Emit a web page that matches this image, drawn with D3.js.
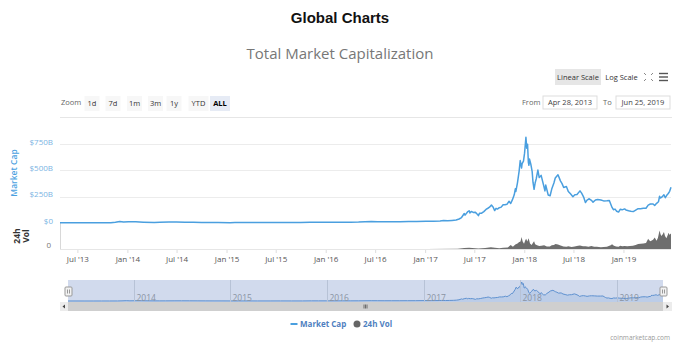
<!DOCTYPE html>
<html>
<head>
<meta charset="utf-8">
<script src="https://cdn.jsdelivr.net/npm/d3@7"></script>
<style>
  html, body { margin: 0; padding: 0; background: #fff; }
  svg { display: block; }
  text { font-family: "Open Sans", "Liberation Sans", sans-serif; }
</style>
</head>
<body>
<svg id="chart" width="680" height="344"></svg>
<script>
// Total market capitalization, $ billions
const capDates = [
  "2013-04-28","2013-06-01","2013-07-01","2013-08-01","2013-09-01","2013-10-01","2013-11-01","2013-11-18",
  "2013-12-04","2013-12-18","2014-01-05","2014-02-01","2014-03-01","2014-04-10","2014-05-01","2014-06-03",
  "2014-07-01","2014-08-01","2014-09-01","2014-10-01","2014-11-01","2014-12-01","2015-01-14","2015-02-01",
  "2015-03-10","2015-04-15","2015-06-01","2015-07-10","2015-08-20","2015-10-01","2015-11-04","2015-12-01",
  "2016-01-01","2016-02-01","2016-03-01","2016-04-01","2016-05-01","2016-06-17","2016-07-10","2016-08-05",
  "2016-09-01","2016-10-01","2016-11-01","2016-12-01","2017-01-04","2017-01-15","2017-02-01","2017-02-25",
  "2017-03-10","2017-03-25","2017-04-10","2017-04-25","2017-05-06","2017-05-15","2017-05-25","2017-05-28",
  "2017-06-06","2017-06-12","2017-06-15","2017-06-20","2017-06-27","2017-07-04","2017-07-10","2017-07-16",
  "2017-07-20","2017-07-28","2017-08-05","2017-08-13","2017-08-20","2017-08-26","2017-09-02","2017-09-08",
  "2017-09-14","2017-09-19","2017-09-24","2017-10-01","2017-10-08","2017-10-15","2017-10-22","2017-10-29",
  "2017-11-06","2017-11-12","2017-11-18","2017-11-25","2017-11-29","2017-12-01","2017-12-07","2017-12-13",
  "2017-12-17","2017-12-22","2017-12-24","2017-12-29","2018-01-02","2018-01-07","2018-01-10","2018-01-13",
  "2018-01-16","2018-01-18","2018-01-20","2018-01-25","2018-01-30","2018-02-02","2018-02-06","2018-02-10",
  "2018-02-14","2018-02-20","2018-02-25","2018-03-04","2018-03-09","2018-03-14","2018-03-18","2018-03-21",
  "2018-03-30","2018-04-06","2018-04-12","2018-04-20","2018-04-25","2018-05-05","2018-05-10","2018-05-14",
  "2018-05-20","2018-05-26","2018-06-05","2018-06-12","2018-06-20","2018-06-29","2018-07-06","2018-07-14",
  "2018-07-25","2018-07-31","2018-08-08","2018-08-14","2018-08-20","2018-08-28","2018-09-05","2018-09-11",
  "2018-09-20","2018-09-28","2018-10-10","2018-10-20","2018-11-01","2018-11-10","2018-11-15","2018-11-20",
  "2018-11-25","2018-12-01","2018-12-07","2018-12-14","2018-12-20","2018-12-27","2019-01-05","2019-01-10",
  "2019-01-20","2019-01-28","2019-02-06","2019-02-15","2019-02-24","2019-03-05","2019-03-15","2019-03-25",
  "2019-04-02","2019-04-10","2019-04-20","2019-04-26","2019-05-03","2019-05-10","2019-05-14","2019-05-17",
  "2019-05-23","2019-05-30","2019-06-04","2019-06-10","2019-06-15","2019-06-20","2019-06-25"
];
const capValues = [
  1.6,1.4,1.2,1.3,1.6,1.7,2.6,7.0,
  14.5,8.5,11.5,11.0,8.0,5.8,6.5,8.6,
  8.8,8.2,6.8,5.6,4.9,5.2,3.2,3.6,
  4.2,3.7,3.8,4.6,3.7,3.8,7.1,6.2,
  6.8,6.6,7.6,7.7,8.5,13.5,12.5,10.8,
  11.9,11.8,13.3,14.0,17.6,15.5,17.4,20.0,
  23.5,20.5,24.5,29,38,52,90,75,
  105,116,96,110,100,103,89,70,
  92,93,108,129,140,150,170,152,
  118,139,132,145,151,174,173,177,
  206,185,219,268,325,300,384,492,
  593,522,563,587,663,813,709,747,
  575,548,607,558,488,387,320,381,
  420,503,431,452,400,349,305,360,
  266,259,322,380,427,458,426,400,
  374,337,346,300,278,250,268,270,
  305,283,243,194,218,230,215,198,
  218,224,218,210,211,214,180,148,
  126,132,112,104,130,125,134,124,
  117,112,108,122,136,136,141,140,
  170,180,181,166,187,202,254,237,
  247,268,240,265,280,301,340
];

// 24h trading volume, $ billions
const volDates = [
  "2013-04-28","2013-09-01","2013-12-01","2014-03-01","2014-09-01","2015-03-01","2015-09-01","2016-03-01",
  "2016-09-01","2017-01-05","2017-05-01","2017-05-25","2017-06-12","2017-07-16","2017-08-10","2017-08-31",
  "2017-09-15","2017-10-01","2017-10-15","2017-11-01","2017-11-12","2017-11-20","2017-11-29","2017-12-07",
  "2017-12-12","2017-12-18","2017-12-22","2017-12-26","2017-12-31","2018-01-05","2018-01-08","2018-01-12",
  "2018-01-17","2018-01-22","2018-01-28","2018-02-02","2018-02-06","2018-02-10","2018-02-17","2018-02-25",
  "2018-03-05","2018-03-15","2018-03-25","2018-04-05","2018-04-12","2018-04-20","2018-04-26","2018-05-05",
  "2018-05-12","2018-05-25","2018-06-05","2018-06-12","2018-06-24","2018-07-05","2018-07-18","2018-07-25",
  "2018-08-05","2018-08-15","2018-08-25","2018-09-05","2018-09-15","2018-09-25","2018-10-10","2018-10-20",
  "2018-11-01","2018-11-15","2018-11-20","2018-11-27","2018-12-05","2018-12-14","2018-12-20","2018-12-28",
  "2019-01-05","2019-01-15","2019-01-25","2019-02-05","2019-02-15","2019-02-24","2019-03-05","2019-03-15",
  "2019-03-25","2019-04-02","2019-04-05","2019-04-10","2019-04-20","2019-04-26","2019-05-03","2019-05-08",
  "2019-05-12","2019-05-14","2019-05-17","2019-05-20","2019-05-25","2019-05-30","2019-06-03","2019-06-08",
  "2019-06-12","2019-06-16","2019-06-20","2019-06-23","2019-06-25"
];
const volValues = [
  0.05,0.1,0.3,0.1,0.05,0.05,0.08,0.1,
  0.1,0.3,1.0,4.8,6.5,2.5,5.0,9.5,
  7.0,4.5,7.0,8.0,21,12,24,30,
  37,40,65,40,28,48,55,40,
  58,30,22,34,42,25,20,16,
  17,20,14,13,20,22,27,24,
  20,13,12,15,11,13,18,19,
  15,15,12,16,12,12,10,11,
  12,20,25,18,14,12,17,15,
  16,15,16,18,22,27,28,30,
  32,55,48,42,50,62,45,60,
  88,100,82,70,78,92,70,58,
  72,88,75,84,80
];

const xTickDates = ["2013-07-01","2014-01-01","2014-07-01","2015-01-01","2015-07-01","2016-01-01",
                    "2016-07-01","2017-01-01","2017-07-01","2018-01-01","2018-07-01","2019-01-01"];
const xTickLabels = ["Jul '13","Jan '14","Jul '14","Jan '15","Jul '15","Jan '16",
                     "Jul '16","Jan '17","Jul '17","Jan '18","Jul '18","Jan '19"];
const capTicks = [0, 250, 500, 750];
const capTickLabels = ["$0", "$250B", "$500B", "$750B"];
const navYears = ["2014","2015","2016","2017","2018","2019"];
const zoomButtons = ["1d","7d","1m","3m","1y","YTD","ALL"];
const rangeFrom = "Apr 28, 2013";
const rangeTo = "Jun 25, 2019";

const parse = d3.utcParse("%Y-%m-%d");
const cap = capDates.map((d, i) => ({ date: parse(d), value: capValues[i] }));
const vol = volDates.map((d, i) => ({ date: parse(d), value: volValues[i] }));
const startDate = parse("2013-04-28"), endDate = parse("2019-06-25");

const svg = d3.select("#chart");
const CAP_COLOR = "#4a9fdf";

// ---- titles ----
svg.append("text").attr("x", 340).attr("y", 23).attr("text-anchor", "middle")
  .style("font-family", "'Liberation Sans', Arial, sans-serif")
  .style("font-weight", "bold").style("font-size", "15px").attr("fill", "#111")
  .text("Global Charts");
svg.append("text").attr("x", 340).attr("y", 59).attr("text-anchor", "middle")
  .style("font-size", "15px").attr("fill", "#777")
  .text("Total Market Capitalization");

// ---- scale toggles ----
const ctrl = svg.append("g").style("font-size", "7.5px");
ctrl.append("rect").attr("x", 555).attr("y", 69).attr("width", 46).attr("height", 16).attr("fill", "#e6e6e6");
ctrl.append("text").attr("x", 578).attr("y", 79.5).attr("text-anchor", "middle").attr("fill", "#333").text("Linear Scale");
ctrl.append("text").attr("x", 621.5).attr("y", 79.5).attr("text-anchor", "middle").attr("fill", "#333").text("Log Scale");
// fullscreen glyph
const fs = ctrl.append("g").attr("stroke", "#888").attr("stroke-width", 1).attr("fill", "none");
[[644,73,1,1],[653,73,-1,1],[644,81,1,-1],[653,81,-1,-1]].forEach(([x0,y0,sx,sy]) => {
  fs.append("path").attr("d", `M${x0},${y0} l${2*sx},${2*sy}`);
});
// menu glyph
[73.5, 77, 80.5].forEach(y => ctrl.append("line").attr("x1", 659).attr("x2", 668)
  .attr("y1", y).attr("y2", y).attr("stroke", "#555").attr("stroke-width", 1.4));

// ---- zoom buttons ----
ctrl.append("text").attr("x", 61).attr("y", 105).attr("fill", "#666").text("Zoom");
const btnX = [92, 113, 134.5, 155.5, 174, 198.5, 220];
zoomButtons.forEach((b, i) => {
  const sel = b === "ALL";
  const w = b.length > 2 ? 20 : 15;
  ctrl.append("rect").attr("x", btnX[i] - w/2).attr("y", 96).attr("width", w).attr("height", 15)
    .attr("fill", sel ? "#e6ebf5" : "#f7f7f7");
  ctrl.append("text").attr("x", btnX[i]).attr("y", 105.5).attr("text-anchor", "middle")
    .attr("fill", sel ? "#000" : "#333").style("font-weight", sel ? "bold" : "normal").text(b);
});

// ---- date range inputs ----
ctrl.append("text").attr("x", 522).attr("y", 105).attr("fill", "#666").text("From");
ctrl.append("rect").attr("x", 543).attr("y", 96).attr("width", 54).attr("height", 13)
  .attr("fill", "#fff").attr("stroke", "#ddd");
ctrl.append("text").attr("x", 570).attr("y", 105).attr("text-anchor", "middle").attr("fill", "#444").text(rangeFrom);
ctrl.append("text").attr("x", 603).attr("y", 105).attr("fill", "#666").text("To");
ctrl.append("rect").attr("x", 616).attr("y", 96).attr("width", 54).attr("height", 13)
  .attr("fill", "#fff").attr("stroke", "#ddd");
ctrl.append("text").attr("x", 643).attr("y", 105).attr("text-anchor", "middle").attr("fill", "#444").text(rangeTo);

svg.append("line").attr("x1", 60).attr("x2", 672).attr("y1", 117.5).attr("y2", 117.5)
  .attr("stroke", "#e6e6e6");

// ---- main chart scales ----
const x = d3.scaleUtc().domain([startDate, endDate]).range([60, 671]);
const yCap = d3.scaleLinear().domain([0, 750]).range([223, 144]);
const yVol = d3.scaleLinear().domain([0, 140]).range([249, 223]);

// gridlines
svg.append("g").selectAll("line").data(capTicks.slice(1)).join("line")
  .attr("x1", 60).attr("x2", 671)
  .attr("y1", d => Math.round(yCap(d)) + 0.5).attr("y2", d => Math.round(yCap(d)) + 0.5)
  .attr("stroke", "#ececec");

// cap axis labels
svg.append("g").style("font-size", "8px").selectAll("text").data(capTicks).join("text")
  .attr("x", 53).attr("y", d => yCap(d) + 0.5).attr("text-anchor", "end").attr("fill", "#7ab4e3")
  .text((d, i) => capTickLabels[i]);
svg.append("text").attr("transform", "translate(17,173) rotate(-90)").attr("text-anchor", "middle")
  .style("font-size", "8.5px").style("font-weight", "600").attr("fill", "#4a9fdf").text("Market Cap");

// volume axis
svg.append("text").attr("x", 51).attr("y", yVol(0) - 1).attr("text-anchor", "end")
  .style("font-size", "8px").attr("fill", "#777").text("0");
const volTitle = svg.append("text").attr("transform", "translate(20,236) rotate(-90)")
  .attr("text-anchor", "middle").style("font-size", "8.5px").style("font-weight", "bold").attr("fill", "#333");
volTitle.append("tspan").attr("x", 0).attr("dy", 0).text("24h");
volTitle.append("tspan").attr("x", 0).attr("dy", 8.5).text("Vol");

svg.append("line").attr("x1", 60.5).attr("x2", 60.5).attr("y1", 223).attr("y2", 249)
  .attr("stroke", "#d8d8d8");
svg.append("line").attr("x1", 60).attr("x2", 671).attr("y1", 249.5).attr("y2", 249.5)
  .attr("stroke", "#e6e6e6");

// volume area
svg.append("path").datum(vol)
  .attr("d", d3.area().x(d => x(d.date)).y0(yVol(0)).y1(d => yVol(d.value)))
  .attr("fill", "#6e6e6e");

// market cap line
svg.append("path").datum(cap)
  .attr("d", d3.line().x(d => x(d.date)).y(d => yCap(d.value)))
  .attr("fill", "none").attr("stroke", CAP_COLOR).attr("stroke-width", 1.5)
  .attr("stroke-linejoin", "round");

// x axis
const xAxis = svg.append("g").attr("transform", "translate(0,250)")
  .call(d3.axisBottom(x).tickValues(xTickDates.map(parse)).tickSize(3).tickPadding(3)
    .tickFormat((d, i) => xTickLabels[i]));
xAxis.select(".domain").remove();
xAxis.selectAll("line").attr("stroke", "#ddd");
xAxis.selectAll("text").style("font-size", "8px").style("font-family", "'Open Sans', sans-serif").attr("fill", "#555");

// ---- navigator ----
const xNav = d3.scaleUtc().domain([startDate, endDate]).range([68, 663]);
const yNav = d3.scaleLinear().domain([0, 813]).range([301, 282]);
const nav = svg.append("g");
nav.append("rect").attr("x", 60).attr("y", 280).attr("width", 612).attr("height", 22).attr("fill", "#fff");
nav.append("path").datum(cap)
  .attr("d", d3.area().x(d => xNav(d.date)).y0(302).y1(d => yNav(d.value)))
  .attr("fill", "#a9c8ea").attr("fill-opacity", 0.35);
nav.append("path").datum(cap)
  .attr("d", d3.line().x(d => xNav(d.date)).y(d => yNav(d.value)))
  .attr("fill", "none").attr("stroke", "#5b97d6").attr("stroke-width", 1);
// selected-range mask
nav.append("rect").attr("x", xNav(startDate)).attr("y", 280).attr("width", xNav(endDate) - xNav(startDate))
  .attr("height", 22).attr("fill", "rgb(102,133,194)").attr("fill-opacity", 0.3);
nav.selectAll(".yr").data(navYears).join("g").attr("class", "yr").each(function(yr) {
  const xx = Math.round(xNav(parse(yr + "-01-01"))) + 0.5;
  d3.select(this).append("line").attr("x1", xx).attr("x2", xx).attr("y1", 280).attr("y2", 302)
    .attr("stroke", "#b7c2d6");
  d3.select(this).append("text").attr("x", xx + 2).attr("y", 301).style("font-size", "8.5px")
    .attr("fill", "#8a93a3").text(yr);
});
// handles
[xNav(startDate), xNav(endDate)].forEach(hx => {
  const g = nav.append("g").attr("transform", `translate(${Math.round(hx) + 0.5},287)`);
  g.append("rect").attr("x", -3.5).attr("y", 0).attr("width", 7).attr("height", 9).attr("rx", 1)
    .attr("fill", "#f2f2f2").attr("stroke", "#999");
  g.append("line").attr("x1", -1).attr("x2", -1).attr("y1", 2.5).attr("y2", 6.5).attr("stroke", "#999");
  g.append("line").attr("x1", 1).attr("x2", 1).attr("y1", 2.5).attr("y2", 6.5).attr("stroke", "#999");
});
// scrollbar
nav.append("rect").attr("x", 60).attr("y", 302).attr("width", 612).attr("height", 9).attr("fill", "#cfcfcf");
nav.append("rect").attr("x", 60).attr("y", 302).attr("width", 8).attr("height", 9).attr("fill", "#ececec");
nav.append("rect").attr("x", 663).attr("y", 302).attr("width", 9).attr("height", 9).attr("fill", "#ececec");
nav.append("path").attr("d", "M65,304.5 L62.5,306.5 L65,308.5 Z").attr("fill", "#444");
nav.append("path").attr("d", "M666.5,304.5 L669,306.5 L666.5,308.5 Z").attr("fill", "#444");
[-1.5, 0, 1.5].forEach(dx => nav.append("line").attr("x1", 365.5 + dx).attr("x2", 365.5 + dx)
  .attr("y1", 304.5).attr("y2", 308.5).attr("stroke", "#555").attr("stroke-width", 0.8));

// ---- legend ----
const leg = svg.append("g").style("font-size", "8px").style("font-weight", "bold");
leg.append("line").attr("x1", 290.5).attr("x2", 297.5).attr("y1", 324).attr("y2", 324)
  .attr("stroke", CAP_COLOR).attr("stroke-width", 2);
leg.append("text").attr("x", 300).attr("y", 327).attr("fill", "#4f7fbf").text("Market Cap");
leg.append("circle").attr("cx", 357).attr("cy", 324).attr("r", 3.5).attr("fill", "#666");
leg.append("text").attr("x", 363).attr("y", 327).attr("fill", "#4f7fbf").text("24h Vol");

svg.append("text").attr("x", 670).attr("y", 340).attr("text-anchor", "end")
  .style("font-size", "6.5px").attr("fill", "#999").text("coinmarketcap.com");
</script>
</body>
</html>
